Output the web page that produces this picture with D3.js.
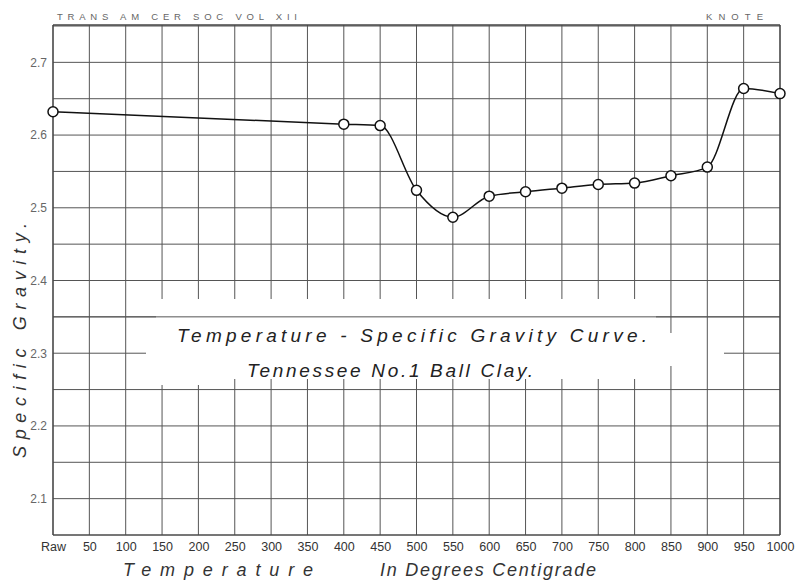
<!DOCTYPE html>
<html>
<head>
<meta charset="utf-8">
<script src="https://cdn.jsdelivr.net/npm/d3@7"></script>
<style>
  html, body { margin: 0; padding: 0; background: #fff; }
  svg { display: block; }
  text { font-family: "Liberation Sans", "DejaVu Sans", sans-serif; }
</style>
</head>
<body>
<svg id="chart" width="796" height="580"></svg>
<script>
// ---- data ----
const temperatures = [0, 400, 450, 500, 550, 600, 650, 700, 750, 800, 850, 900, 950, 1000];
const specificGravity = [2.632, 2.615, 2.613, 2.524, 2.487, 2.516, 2.522, 2.527, 2.532, 2.534, 2.544, 2.556, 2.664, 2.657];
const xTickValues = d3.range(0, 1001, 50);
const xTickLabels = ["Raw", "50", "100", "150", "200", "250", "300", "350", "400", "450", "500",
  "550", "600", "650", "700", "750", "800", "850", "900", "950", "1000"];
const yTickValues = [2.1, 2.2, 2.3, 2.4, 2.5, 2.6, 2.7];
const yTickLabels = ["2.1", "2.2", "2.3", "2.4", "2.5", "2.6", "2.7"];
const yGridValues = d3.range(2.05, 2.7501, 0.05);
const titleLines = ["Temperature - Specific Gravity  Curve.", "Tennessee  No.1 Ball Clay."];
const headerLeft = "TRANS AM CER SOC VOL XII";
const headerRight = "KNOTE";
const xTitleParts = ["Temperature", "In Degrees Centigrade"];
const yTitle = "Specific Gravity.";

(function () {
// ---- layout ----
const svg = d3.select("#chart");
const mLeft = 53, mRight = 780, mTop = 26, mBottom = 535;
const x = d3.scaleLinear().domain([0, 1000]).range([mLeft, mRight]);
const y = d3.scaleLinear().domain([2.05, 2.75]).range([mBottom, mTop]);
const gridColor = "#555";
const lightFont = "'Open Sans', 'Liberation Sans', sans-serif";

// horizontal grid lines
svg.append("g").selectAll("line").data(yGridValues).join("line")
  .attr("x1", mLeft).attr("x2", mRight)
  .attr("y1", d => y(d)).attr("y2", d => y(d))
  .attr("stroke", gridColor).attr("stroke-width", 1);

// erase part of 2.3 line (behind title)
svg.append("rect").attr("x", 146).attr("y", y(2.3) - 3).attr("width", 724 - 146).attr("height", 6).attr("fill", "#fff");

// vertical grid lines
svg.append("g").selectAll("line").data(xTickValues).join("line")
  .attr("x1", d => x(d)).attr("x2", d => x(d))
  .attr("y1", mTop - 1).attr("y2", mBottom)
  .attr("stroke", gridColor).attr("stroke-width", 1);

// white patch behind title text
svg.append("rect").attr("x", 156).attr("y", 299).attr("width", 500).attr("height", 80).attr("fill", "#fff");
svg.append("rect").attr("x", 156).attr("y", 379).attr("width", 60).attr("height", 6).attr("fill", "#fff");
svg.append("rect").attr("x", 655).attr("y", 333).attr("width", 30).attr("height", 33).attr("fill", "#fff");
// redraw the 2.35 line over the patch
svg.append("line").attr("x1", mLeft).attr("x2", mRight)
  .attr("y1", y(2.35)).attr("y2", y(2.35))
  .attr("stroke", gridColor).attr("stroke-width", 1);

// frame
svg.append("line").attr("x1", mLeft).attr("x2", mRight).attr("y1", mTop - 1).attr("y2", mTop - 1)
  .attr("stroke", "#444").attr("stroke-width", 1.6);
svg.append("line").attr("x1", mLeft).attr("x2", mRight).attr("y1", mBottom).attr("y2", mBottom)
  .attr("stroke", "#444").attr("stroke-width", 1.2);
svg.append("line").attr("x1", mLeft).attr("x2", mLeft).attr("y1", mTop - 1).attr("y2", mBottom)
  .attr("stroke", "#444").attr("stroke-width", 1.2);
svg.append("line").attr("x1", mRight).attr("x2", mRight).attr("y1", mTop - 1).attr("y2", mBottom)
  .attr("stroke", "#444").attr("stroke-width", 1.2);

// x tick labels
const xAxis = d3.axisBottom(x).tickValues(xTickValues)
  .tickFormat((d, i) => xTickLabels[i]).tickSize(0).tickPadding(7);
const gx = svg.append("g").attr("transform", `translate(0,${mBottom})`).call(xAxis);
gx.select(".domain").remove();
gx.selectAll("text").attr("font-family", "'Liberation Sans Narrow', 'DejaVu Sans Condensed', sans-serif")
  .attr("font-size", 12.5).attr("fill", "#333");

// y tick labels
const yAxis = d3.axisLeft(y).tickValues(yTickValues)
  .tickFormat((d, i) => yTickLabels[i]).tickSize(0).tickPadding(6);
const gy = svg.append("g").attr("transform", `translate(${mLeft},0)`).call(yAxis);
gy.select(".domain").remove();
gy.selectAll("text").attr("font-family", "'Liberation Sans', sans-serif")
  .attr("font-size", 12).attr("fill", "#666");

// curve
const data = temperatures.map((t, i) => ({ t, v: specificGravity[i] }));
const line = d3.line().x(d => x(d.t)).y(d => y(d.v)).curve(d3.curveMonotoneX);
svg.append("path").datum(data).attr("d", line)
  .attr("fill", "none").attr("stroke", "#111").attr("stroke-width", 1.5);
svg.append("g").selectAll("circle").data(data).join("circle")
  .attr("cx", d => x(d.t)).attr("cy", d => y(d.v)).attr("r", 5)
  .attr("fill", "#fff").attr("stroke", "#111").attr("stroke-width", 1.5);

// title text
svg.append("text").attr("x", 177).attr("y", 342)
  .attr("textLength", 470).attr("lengthAdjust", "spacing")
  .attr("font-family", lightFont).attr("font-weight", 300)
  .attr("font-size", 19).attr("font-style", "italic").attr("fill", "#222")
  .text(titleLines[0]);
svg.append("text").attr("x", 247).attr("y", 377)
  .attr("textLength", 286).attr("lengthAdjust", "spacing")
  .attr("font-family", lightFont).attr("font-weight", 300)
  .attr("font-size", 19).attr("font-style", "italic").attr("fill", "#222")
  .text(titleLines[1]);

// header
svg.append("text").attr("x", 57).attr("y", 20)
  .attr("textLength", 240).attr("lengthAdjust", "spacing")
  .attr("font-size", 9.5).attr("fill", "#666").text(headerLeft);
svg.append("text").attr("x", 706).attr("y", 20)
  .attr("textLength", 57).attr("lengthAdjust", "spacing")
  .attr("font-size", 9.5).attr("fill", "#666").text(headerRight);

// x title
svg.append("text").attr("x", 123).attr("y", 576)
  .attr("textLength", 190).attr("lengthAdjust", "spacing")
  .attr("font-family", lightFont).attr("font-weight", 300)
  .attr("font-size", 18).attr("font-style", "italic").attr("fill", "#333")
  .text(xTitleParts[0]);
svg.append("text").attr("x", 380).attr("y", 576)
  .attr("textLength", 216).attr("lengthAdjust", "spacing")
  .attr("font-family", lightFont).attr("font-weight", 300)
  .attr("font-size", 18).attr("font-style", "italic").attr("fill", "#333")
  .text(xTitleParts[1]);

// y title
svg.append("text").attr("transform", "translate(26,458) rotate(-90)")
  .attr("x", 0).attr("y", 0)
  .attr("textLength", 235).attr("lengthAdjust", "spacing")
  .attr("font-family", lightFont).attr("font-weight", 300)
  .attr("font-size", 18).attr("font-style", "italic").attr("fill", "#333")
  .text(yTitle);
})();
</script>
</body>
</html>
